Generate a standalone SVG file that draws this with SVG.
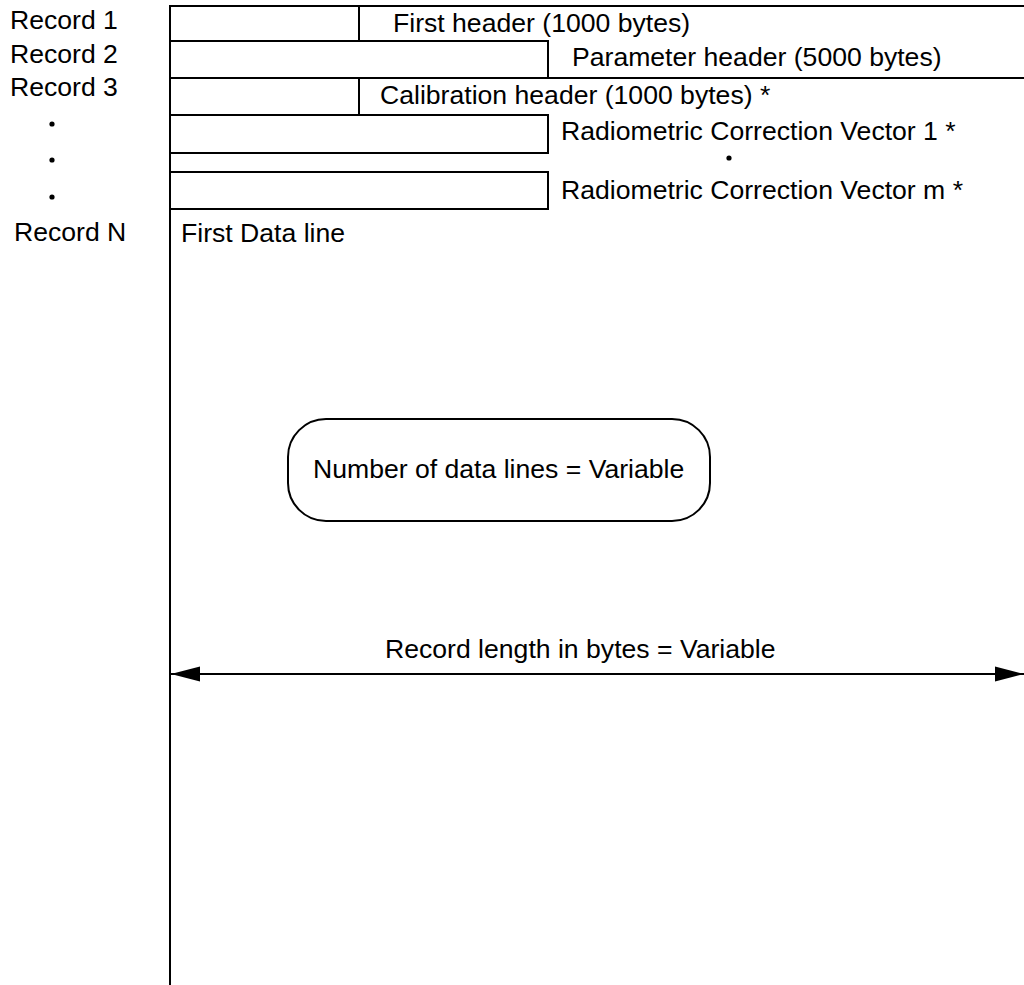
<svg xmlns="http://www.w3.org/2000/svg" width="1024" height="985" viewBox="0 0 1024 985">
<style>
text{font-family:"Liberation Sans",Arial,sans-serif;font-size:26.6px;fill:#000}
.ln{stroke:#000;stroke-width:2;fill:none}
.dot{fill:#000}
</style>
<defs>
<marker id="ah" markerWidth="30" markerHeight="16" refX="29" refY="8" orient="auto-start-reverse" markerUnits="userSpaceOnUse">
<path d="M0,0.5 L29,8 L0,15.5 Z" fill="#000"/>
</marker>
</defs>
<rect width="1024" height="985" fill="#fff"/>
<g id="labels">
<text x="10" y="29">Record 1</text>
<text x="10" y="63">Record 2</text>
<text x="10" y="96">Record 3</text>
<circle class="dot" cx="52" cy="124" r="2.6"/>
<circle class="dot" cx="52" cy="160" r="2.6"/>
<circle class="dot" cx="52" cy="197" r="2.6"/>
<text x="14" y="241">Record N</text>
</g>
<g id="frame">
<line class="ln" x1="170" y1="6" x2="1024" y2="6"/>
<line class="ln" x1="170" y1="78" x2="1024" y2="78"/>
<line class="ln" x1="170" y1="5" x2="170" y2="985"/>
</g>
<g id="record1">
<rect class="ln" x="170" y="6" width="189" height="35"/>
<text x="393" y="32">First header (1000 bytes)</text>
</g>
<g id="record2">
<rect class="ln" x="170" y="41" width="378" height="37"/>
<text x="572" y="66">Parameter header (5000 bytes)</text>
</g>
<g id="record3">
<rect class="ln" x="170" y="78" width="189" height="37"/>
<text x="380" y="104">Calibration header (1000 bytes) *</text>
</g>
<g id="rcv1">
<rect class="ln" x="170" y="115" width="378" height="38"/>
<text x="561" y="140">Radiometric Correction Vector 1 *</text>
</g>
<circle class="dot" cx="729" cy="158" r="2.6"/>
<g id="rcvm">
<rect class="ln" x="170" y="172" width="378" height="37"/>
<text x="561" y="199">Radiometric Correction Vector m *</text>
</g>
<g id="datalines">
<text x="181" y="242">First Data line</text>
</g>
<g id="numlines">
<rect class="ln" x="288" y="419" width="422" height="102" rx="38" ry="38"/>
<text x="313" y="478">Number of data lines = Variable</text>
</g>
<g id="connectors">
<line class="ln" x1="171" y1="674" x2="1024" y2="674" marker-start="url(#ah)" marker-end="url(#ah)"/>
<text x="385" y="658">Record length in bytes = Variable</text>
</g>
</svg>
